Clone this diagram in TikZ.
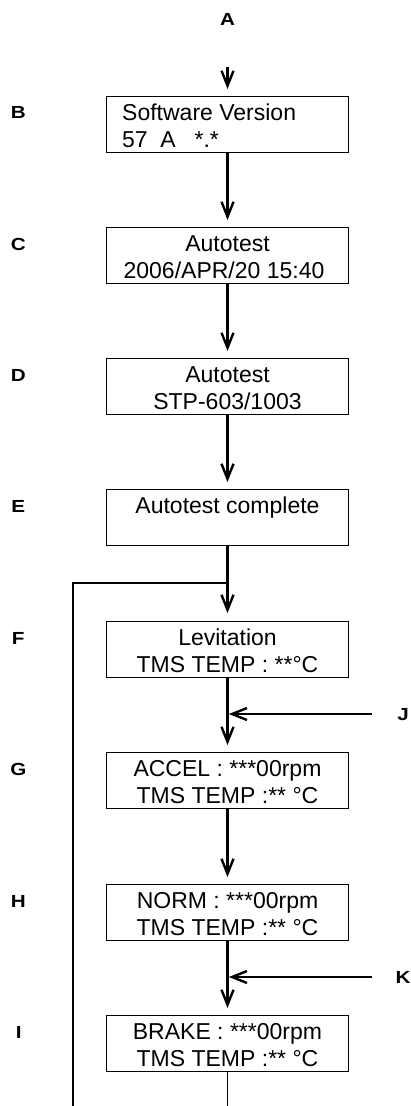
\documentclass[tikz,border=0pt]{standalone}
\usepackage{fontspec}
\setmainfont{Liberation Sans}
\usetikzlibrary{arrows.meta}
\newcommand{\widelbl}[1]{\scalebox{1.18}[1]{#1}}
\begin{document}
\begin{tikzpicture}[x=1pt,y=-1pt,
  box/.style={draw, line width=1.3pt, minimum width=242pt, minimum height=56pt, inner sep=0pt, anchor=north},
  txt/.style={anchor=base, inner sep=0pt, font=\fontsize{23}{27}\selectfont},
  lbl/.style={anchor=base, inner sep=0pt, font=\fontsize{17.5}{20}\selectfont\bfseries},
  arr/.style={line width=2.4pt, -{Straight Barb[length=15pt,width=12pt]}},
  thinline/.style={line width=1.2pt}]
\useasboundingbox (0,0) rectangle (410,1106);

% boxes
\node[box] (bB) at (227.5,96) {};
\node[box] (bC) at (227.5,227) {};
\node[box] (bD) at (227.5,358) {};
\node[box] (bE) at (227.5,489) {};
\node[box] (bF) at (227.5,621) {};
\node[box] (bG) at (227.5,752) {};
\node[box] (bH) at (227.5,884) {};
\node[box] (bI) at (227.5,1015) {};

% texts
\node[txt, anchor=base west] (tB1) at (122,120.7) {Software Version};
\node[txt, anchor=base west] (tB2) at (122,147.5) {57\hspace{12.5pt}A\hspace{19pt}*.*};
\node[txt] (tC1) at (227.5,251.5) {Autotest};
\node[txt] (tC2) at (224,278) {2006/APR/20 15:40};
\node[txt] (tD1) at (227.5,382.5) {Autotest};
\node[txt] (tD2) at (227.5,409) {STP-603/1003};
\node[txt] (tE1) at (227.5,513.3) {Autotest complete};
\node[txt] (tF1) at (227.5,645.5) {Levitation};
\node[txt] (tF2) at (227.5,672) {TMS TEMP : **°C};
\node[txt] (tG1) at (227.5,776.5) {ACCEL : ***00rpm};
\node[txt] (tG2) at (227.5,803) {TMS TEMP :** °C};
\node[txt] (tH1) at (227.5,908.5) {NORM : ***00rpm};
\node[txt] (tH2) at (227.5,935) {TMS TEMP :** °C};
\node[txt] (tI1) at (227.5,1039.5) {BRAKE : ***00rpm};
\node[txt] (tI2) at (227.5,1066) {TMS TEMP :** °C};

% labels
\node[lbl] (lA) at (227.5,25) {\widelbl{A}};
\node[lbl] (lB) at (18.3,118.3) {\widelbl{B}};
\node[lbl] (lC) at (18.3,250) {\widelbl{C}};
\node[lbl] (lD) at (18.3,381) {\widelbl{D}};
\node[lbl] (lE) at (18.3,512) {\widelbl{E}};
\node[lbl] (lF) at (18.3,644) {\widelbl{F}};
\node[lbl] (lG) at (18.3,775) {\widelbl{G}};
\node[lbl] (lH) at (18.3,907) {\widelbl{H}};
\node[lbl] (lI) at (18.7,1038) {\widelbl{I}};
\node[lbl] (lJ) at (403,720) {\widelbl{J}};
\node[lbl] (lK) at (403,983) {\widelbl{K}};

% coordinates
\coordinate (a0) at (227.5,67);
\coordinate (lp0) at (227.5,583);
\coordinate (lp1) at (73,583);
\coordinate (lp2) at (73,1106);
\coordinate (iend) at (227.5,1106);
\coordinate (j0) at (372,714);
\coordinate (j1) at (228.8,714);
\coordinate (k0) at (372,977);
\coordinate (k1) at (228.8,977);

% loop and bottom thin lines
\draw[thinline] (lp0) -- (lp1) -- (lp2);
\draw[thinline] (bI.south) -- (iend);

% arrows
\draw[arr] (a0) -- ([yshift=7pt]bB.north);
\draw[arr] (bB.south) -- ([yshift=7pt]bC.north);
\draw[arr] (bC.south) -- ([yshift=7pt]bD.north);
\draw[arr] (bD.south) -- ([yshift=7pt]bE.north);
\draw[arr] (bE.south) -- ([yshift=8pt]bF.north);
\draw[arr] (bF.south) -- ([yshift=7pt]bG.north);
\draw[arr] (bG.south) -- ([yshift=7pt]bH.north);
\draw[arr] (bH.south) -- ([yshift=7pt]bI.north);
\draw[arr] (j0) -- (j1);
\draw[arr] (k0) -- (k1);
\end{tikzpicture}
\end{document}
